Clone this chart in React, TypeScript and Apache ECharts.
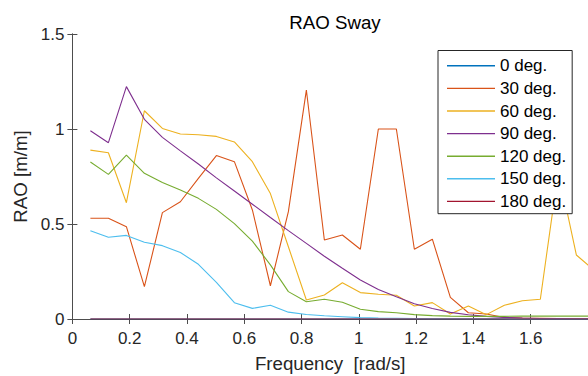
import React, { useEffect, useRef } from "react";
import * as echarts from "echarts";

const freq = [
  0.0628, 0.1257, 0.1885, 0.2513, 0.3142, 0.377, 0.4398, 0.5027, 0.5655, 0.6283,
  0.6912, 0.754, 0.8168, 0.8796, 0.9425, 1.0053, 1.0681, 1.131, 1.1938, 1.2566,
  1.3195, 1.3823, 1.4451, 1.508, 1.5708, 1.6336, 1.6965, 1.7593, 1.8221,
];

const seriesNames = ["0 deg.", "30 deg.", "60 deg.", "90 deg.", "120 deg.", "150 deg.", "180 deg."];
const seriesColors = ["#0072BD", "#D95319", "#EDB120", "#7E2F8E", "#77AC30", "#4DBEEE", "#A2142F"];

const rao0 = [0, 0, 0, 0, 0, 0, 0, 0, 0, 0, 0, 0, 0, 0, 0, 0, 0, 0, 0, 0, 0, 0, 0, 0, 0, 0, 0, 0, 0];
const rao30 = [
  0.53, 0.53, 0.486, 0.17, 0.56, 0.617, 0.74, 0.86, 0.828, 0.574,
  0.175, 0.565, 1.205, 0.416, 0.442, 0.367, 1.0, 1.0, 0.367, 0.42,
  0.114, 0.033, 0.026, 0.008, 0.005, 0.004, 0.003, 0.003, 0.003,
];
const rao60 = [
  0.889, 0.875, 0.612, 1.096, 1.003, 0.974, 0.97, 0.961, 0.932, 0.828,
  0.66, 0.38, 0.1, 0.126, 0.191, 0.139, 0.13, 0.125, 0.068, 0.086,
  0.026, 0.068, 0.023, 0.072, 0.096, 0.104, 0.78, 0.337, 0.255,
];
const rao90 = [
  0.991, 0.928, 1.223, 1.051, 0.956, 0.885, 0.816, 0.743, 0.674, 0.604,
  0.534, 0.465, 0.398, 0.33, 0.267, 0.205, 0.155, 0.117, 0.08, 0.055,
  0.035, 0.022, 0.014, 0.008, 0.005, 0.003, 0.002, 0.001, 0.001,
];
const rao120 = [
  0.826, 0.761, 0.863, 0.767, 0.718, 0.679, 0.635, 0.577, 0.502, 0.41,
  0.285, 0.144, 0.091, 0.104, 0.088, 0.051, 0.039, 0.033, 0.023, 0.018,
  0.015, 0.014, 0.014, 0.014, 0.015, 0.015, 0.015, 0.015, 0.015,
];
const rao150 = [
  0.465, 0.43, 0.44, 0.404, 0.386, 0.35, 0.288, 0.193, 0.086, 0.056,
  0.072, 0.036, 0.024, 0.017, 0.012, 0.007, 0.005, 0.004, 0.003, 0.002,
  0.002, 0.001, 0.001, 0.001, 0, 0, 0, 0, 0,
];
const rao180 = [0, 0, 0, 0, 0, 0, 0, 0, 0, 0, 0, 0, 0, 0, 0, 0, 0, 0, 0, 0, 0, 0, 0, 0, 0, 0, 0, 0, 0];

const xTitle = "Frequency  [rad/s]";
const yTitle = "RAO [m/m]";
const chartTitle = "RAO Sway";

export default function App() {
  const ref = useRef<HTMLDivElement>(null);
  useEffect(() => {
    const chart = echarts.init(ref.current!, undefined, { renderer: "svg" });
    const font = "'Liberation Sans', Arial, Helvetica, sans-serif";
    const axisColor = "#4d4d4d";
    const labelColor = "#262626";
    const values = [rao0, rao30, rao60, rao90, rao120, rao150, rao180];
    const lineAxis = { lineStyle: { color: axisColor, width: 1 } };
    const tick = { inside: true, length: 5, lineStyle: { color: axisColor, width: 1 } };
    chart.setOption({
      animation: false,
      textStyle: { fontFamily: font },
      title: {
        text: chartTitle,
        left: 330,
        top: 8,
        textAlign: "center",
        textStyle: { fontFamily: font, fontSize: 18.7, fontWeight: "normal", color: "#000" },
      },
      grid: {
        left: 72.4,
        right: 0,
        top: 34,
        bottom: 57,
        containLabel: false,
        outerBoundsMode: "none",
      },
      legend: {
        orient: "vertical",
        left: 438,
        top: 50.5,
        padding: [4, 6, 1, 9],
        itemGap: 0,
        itemWidth: 48,
        itemHeight: 1.4,
        icon: "rect",
        backgroundColor: "#fff",
        borderColor: "#262626",
        borderWidth: 1,
        borderRadius: 0,
        textStyle: { fontFamily: font, fontSize: 17, color: "#000", lineHeight: 22.6 },
        data: seriesNames,
      },
      xAxis: [
        {
          type: "value",
          position: "bottom",
          min: 0,
          max: 1.8,
          interval: 0.2,
          axisLine: lineAxis,
          axisTick: tick,
          splitLine: { show: false },
          axisLabel: { fontFamily: font, fontSize: 17, color: labelColor, margin: 11, showMaxLabel: false },
          name: xTitle,
          nameLocation: "middle",
          nameGap: 34.6,
          nameTextStyle: { fontFamily: font, fontSize: 18.7, color: labelColor },
        },
        {
          type: "value",
          position: "top",
          min: 0,
          max: 1.8,
          interval: 0.2,
          axisLine: lineAxis,
          axisTick: tick,
          splitLine: { show: false },
          axisLabel: { show: false },
        },
      ],
      yAxis: [
        {
          type: "value",
          position: "left",
          min: 0,
          max: 1.5,
          interval: 0.5,
          axisLine: { show: true, ...lineAxis },
          axisTick: { show: true, ...tick },
          splitLine: { show: false },
          axisLabel: { fontFamily: font, fontSize: 17, color: labelColor, margin: 8 },
          name: yTitle,
          nameLocation: "middle",
          nameGap: 42,
          nameTextStyle: { fontFamily: font, fontSize: 18.7, color: labelColor },
        },
        {
          type: "value",
          position: "right",
          min: 0,
          max: 1.5,
          interval: 0.5,
          axisLine: { show: true, ...lineAxis },
          axisTick: { show: true, ...tick },
          splitLine: { show: false },
          axisLabel: { show: false },
        },
      ],
      series: seriesNames.map((name, i) => ({
        name,
        type: "line",
        xAxisIndex: 0,
        yAxisIndex: 0,
        symbol: "none",
        showSymbol: false,
        color: seriesColors[i],
        lineStyle: { color: seriesColors[i], width: 1.1 },
        data: freq.map((f, j) => [f, values[i][j]]),
      })),
    });
    return () => chart.dispose();
  }, []);
  return <div ref={ref} style={{ position: "absolute", left: 0, top: 0, width: 588, height: 376 }} />;
}
